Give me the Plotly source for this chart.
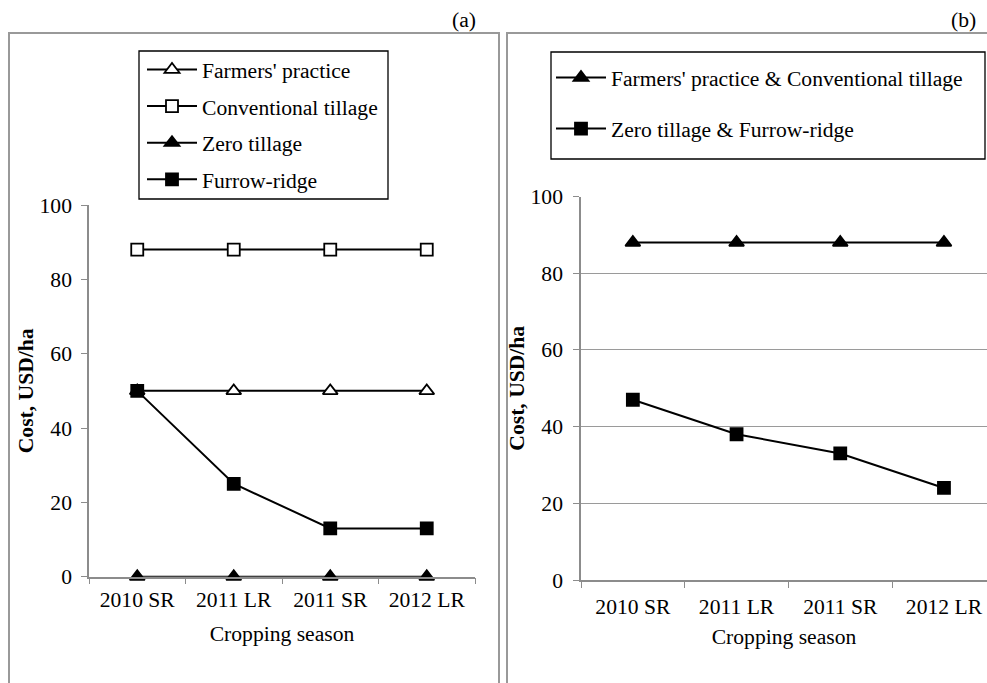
import plotly.graph_objects as go

seasons = ["2010 SR", "2011 LR", "2011 SR", "2012 LR"]

# Panel (a)
farmers_a = [50, 50, 50, 50]
conventional_a = [88, 88, 88, 88]
zero_a = [0, 0, 0, 0]
furrow_a = [50, 25, 13, 13]

# Panel (b)
fp_ct_b = [88, 88, 88, 88]
zt_fr_b = [47, 38, 33, 24]

FONT = "Liberation Serif"
FS = 21.6
AXC = "#8c8c8c"
W, H = 987, 683

def px_x(p):
    return p / W

def px_y(p):
    return 1 - p / H

fig = go.Figure()

line = dict(color="black", width=2)

def add(x, y, name, symbol, filled, xa, ya, legend, group):
    fig.add_trace(go.Scatter(
        x=x, y=y, name=name, mode="lines+markers",
        line=line,
        marker=dict(symbol=symbol, size=12 if "square" in symbol else 13,
                    color="black" if filled else "white",
                    line=dict(color="black", width=1.8)),
        xaxis=xa, yaxis=ya, legend=legend, legendgroup=group,
        cliponaxis=False,
    ))

add(seasons, farmers_a, "Farmers' practice", "triangle-up", False, "x", "y", "legend", "a1")
add(seasons, conventional_a, "Conventional tillage", "square", False, "x", "y", "legend", "a2")
add(seasons, zero_a, "Zero tillage", "triangle-up", True, "x", "y", "legend", "a3")
add(seasons, furrow_a, "Furrow-ridge", "square", True, "x", "y", "legend", "a4")

add(seasons, fp_ct_b, "Farmers' practice & Conventional tillage", "triangle-up", True, "x2", "y2", "legend2", "b1")
add(seasons, zt_fr_b, "Zero tillage & Furrow-ridge", "square", True, "x2", "y2", "legend2", "b2")

tickfont = dict(family=FONT, size=FS, color="black")
titlefont = dict(family=FONT, size=FS, color="black")

xcommon = dict(type="category", categoryorder="array", categoryarray=seasons,
               tickson="boundaries", ticks="outside", ticklen=6, tickcolor=AXC,
               showline=True, linecolor=AXC, linewidth=1.5, showgrid=False,
               tickfont=tickfont, zeroline=False, automargin=False)
ycommon = dict(range=[0, 100], dtick=20, ticks="outside", ticklen=6, tickcolor=AXC,
               showline=True, linecolor=AXC, linewidth=1.5,
               tickfont=tickfont, zeroline=False, automargin=False)

fig.update_layout(
    width=W, height=H,
    margin=dict(l=0, r=0, t=0, b=0, autoexpand=False),
    paper_bgcolor="white", plot_bgcolor="white",
    font=dict(family=FONT, size=FS, color="black"),
    xaxis=dict(**xcommon, domain=[px_x(89), px_x(475)], range=[-0.5, 3.5],
               anchor="y", ticklabelstandoff=3,
               title=dict(text="Cropping season", font=titlefont, standoff=15)),
    yaxis=dict(**ycommon, domain=[px_y(576.7), px_y(205)], showgrid=False, anchor="x",
               ticklabelstandoff=5,
               title=dict(text="<b>Cost, USD/ha</b>", font=titlefont, standoff=0)),
    xaxis2=dict(**xcommon, domain=[px_x(581), 1.0], range=[-0.5, 3.415],
                anchor="y2", ticklabelstandoff=6,
                title=dict(text="Cropping season", font=titlefont, standoff=11)),
    yaxis2=dict(**ycommon, domain=[px_y(580), px_y(196.5)], showgrid=True,
                gridcolor="#9a9a9a", gridwidth=1.2, anchor="x2",
                ticklabelstandoff=6,
                title=dict(text="<b>Cost, USD/ha</b>", font=titlefont, standoff=0)),
    legend=dict(x=px_x(142), y=px_y(49), xanchor="left", yanchor="top",
                bgcolor="rgba(0,0,0,0)", borderwidth=0,
                font=dict(family=FONT, size=FS, color="black"),
                tracegroupgap=5.5, itemwidth=50),
    legend2=dict(x=px_x(551), y=px_y(57), xanchor="left", yanchor="top",
                 bgcolor="rgba(0,0,0,0)", borderwidth=0,
                 font=dict(family=FONT, size=FS, color="black"),
                 tracegroupgap=20, itemwidth=50),
    shapes=[
        dict(type="rect", xref="paper", yref="paper",
             x0=px_x(9), x1=px_x(499), y0=px_y(700), y1=px_y(33),
             line=dict(color="#999999", width=2), layer="below"),
        dict(type="rect", xref="paper", yref="paper",
             x0=px_x(507), x1=px_x(1000), y0=px_y(700), y1=px_y(33),
             line=dict(color="#999999", width=2), layer="below"),
        dict(type="rect", xref="paper", yref="paper",
             x0=px_x(139), x1=px_x(388), y0=px_y(199), y1=px_y(51),
             line=dict(color="black", width=1.3), fillcolor="white", layer="below"),
        dict(type="rect", xref="paper", yref="paper",
             x0=px_x(551), x1=px_x(985), y0=px_y(159), y1=px_y(52),
             line=dict(color="black", width=1.3), fillcolor="white", layer="below"),
    ],
    annotations=[
        dict(text="(a)", xref="paper", yref="paper", x=px_x(478), y=px_y(20),
             xanchor="right", yanchor="middle", showarrow=False,
             font=dict(family=FONT, size=FS, color="black")),
        dict(text="(b)", xref="paper", yref="paper", x=px_x(978), y=px_y(20),
             xanchor="right", yanchor="middle", showarrow=False,
             font=dict(family=FONT, size=FS, color="black")),
    ],
    showlegend=True,
)

fig.write_html("out.html", config={"displayModeBar": False},
               post_script="document.body.style.margin='0';document.body.style.overflow='hidden';")
